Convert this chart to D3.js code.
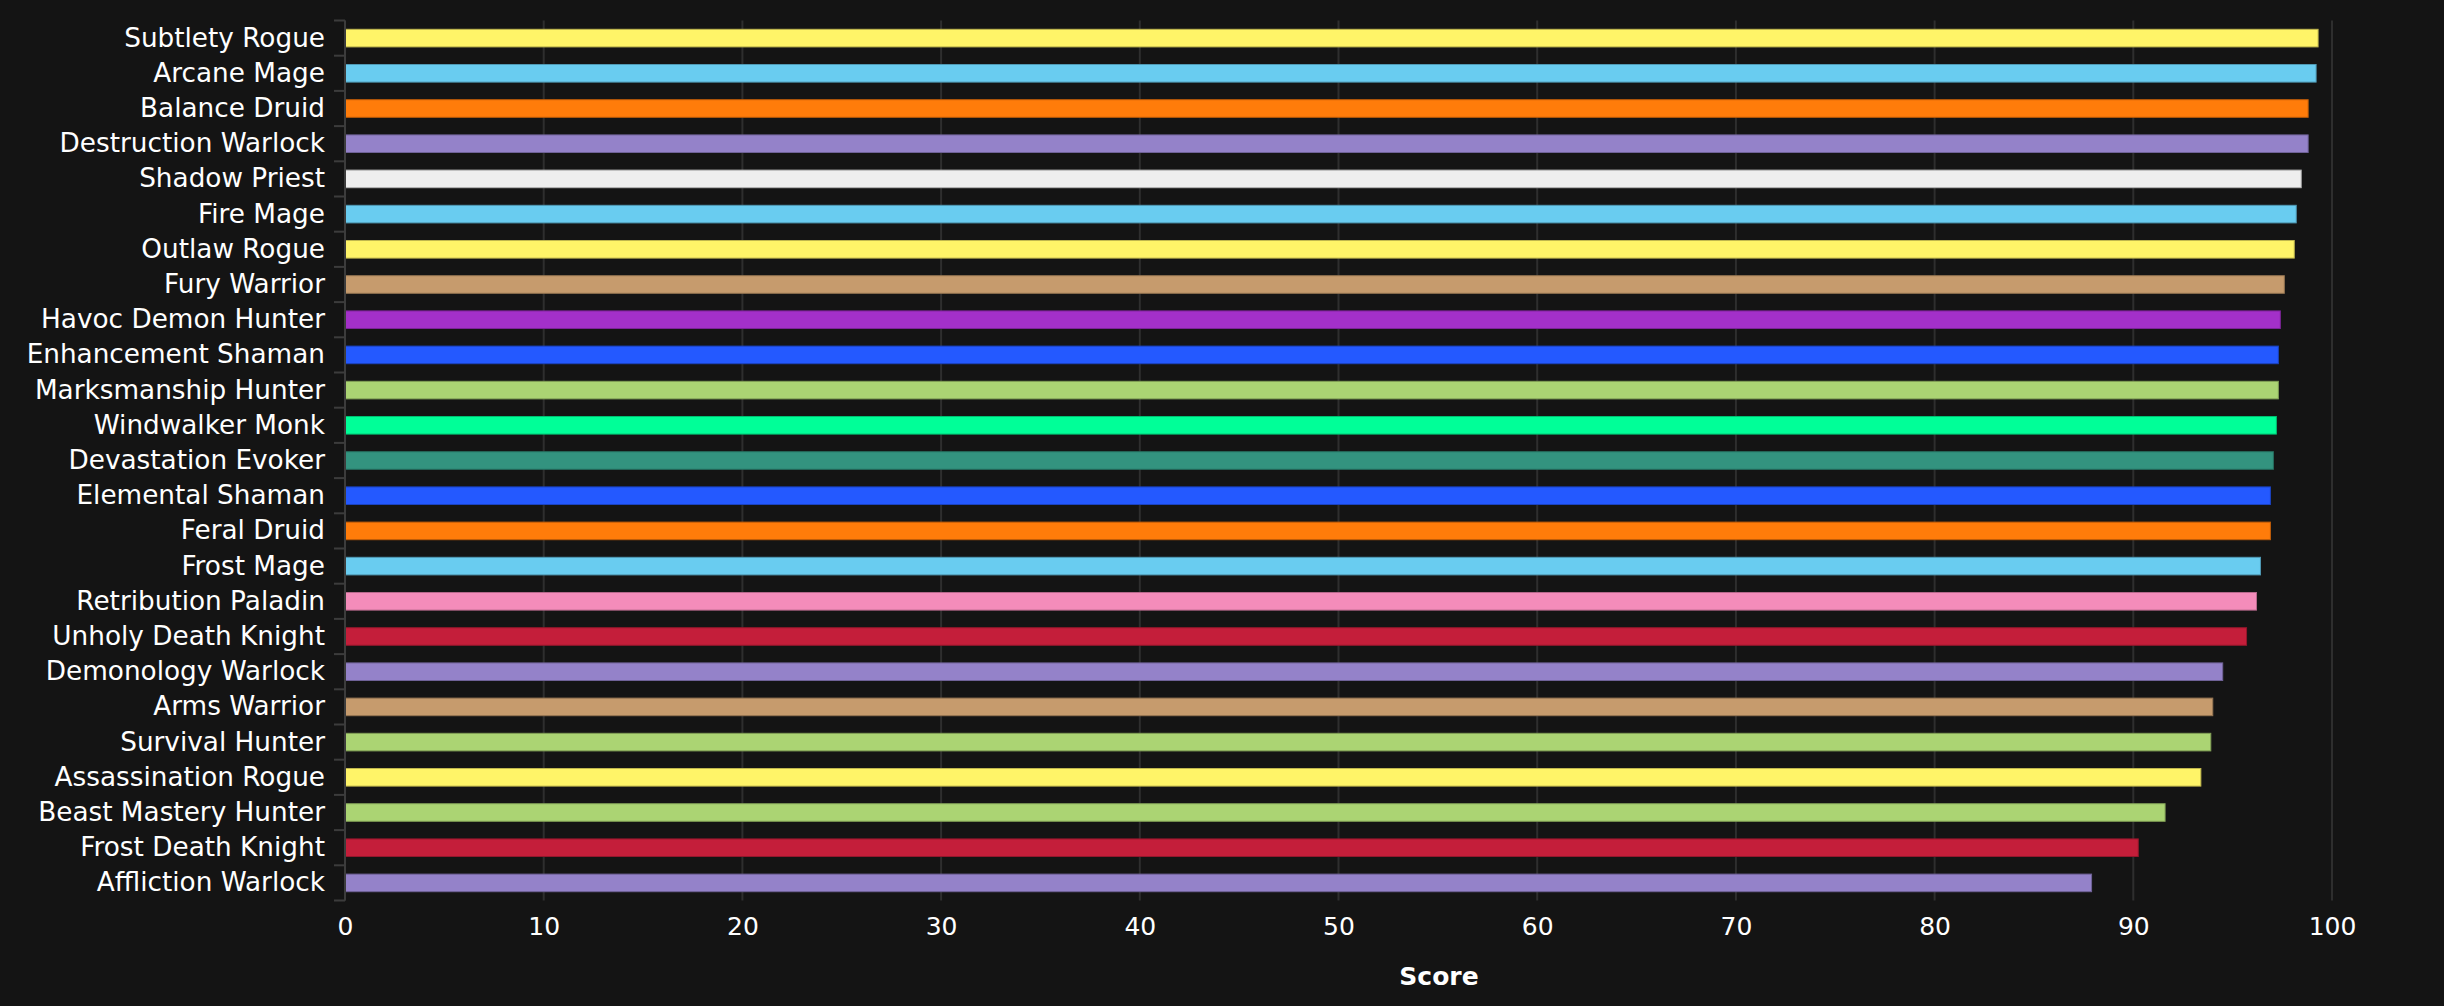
<!DOCTYPE html>
<html>
<head>
<meta charset="utf-8">
<script src="https://cdn.jsdelivr.net/npm/d3@7"></script>
<style>
html,body{margin:0;padding:0;background:#141414;}
svg{display:block;}
</style>
</head>
<body>
<svg id="chart" width="2444" height="1006"></svg>
<script>
const specs = ["Subtlety Rogue","Arcane Mage","Balance Druid","Destruction Warlock","Shadow Priest","Fire Mage","Outlaw Rogue","Fury Warrior","Havoc Demon Hunter","Enhancement Shaman","Marksmanship Hunter","Windwalker Monk","Devastation Evoker","Elemental Shaman","Feral Druid","Frost Mage","Retribution Paladin","Unholy Death Knight","Demonology Warlock","Arms Warrior","Survival Hunter","Assassination Rogue","Beast Mastery Hunter","Frost Death Knight","Affliction Warlock"];
const scores = [99.3,99.2,98.8,98.8,98.45,98.2,98.1,97.6,97.4,97.3,97.3,97.2,97.05,96.9,96.9,96.4,96.2,95.7,94.5,94.0,93.9,93.4,91.6,90.25,87.9];
const classes = ["Rogue","Mage","Druid","Warlock","Priest","Mage","Rogue","Warrior","Demon Hunter","Shaman","Hunter","Monk","Evoker","Shaman","Druid","Mage","Paladin","Death Knight","Warlock","Warrior","Hunter","Rogue","Hunter","Death Knight","Warlock"];
const classNames = ["Rogue","Mage","Druid","Warlock","Priest","Warrior","Demon Hunter","Shaman","Hunter","Monk","Evoker","Paladin","Death Knight"];
const classColors = ["#FFF468","#69CCF0","#FF7C0A","#9482C9","#EEEEEE","#C69B6D","#A330C9","#2459FF","#ABD473","#00FF98","#33937F","#F48CBA","#C41E3A"];
const xTicks = [0,10,20,30,40,50,60,70,80,90,100];
const xTitle = "Score";

(function(){
const svg = d3.select("#chart");
const mLeft = 345, mRight = 2332, mTop = 20.5, mBottom = 900.5;
const x = d3.scaleLinear().domain([0,100]).range([mLeft,mRight]);
const y = d3.scaleBand().domain(specs).range([mTop,mBottom]).paddingInner(0.5).paddingOuter(0.25);
const color = d3.scaleOrdinal().domain(classNames).range(classColors);
const font = "DejaVu Sans, sans-serif";

// gridlines
svg.append("g").selectAll("line").data(xTicks).join("line")
  .attr("x1", d=>x(d)).attr("x2", d=>x(d))
  .attr("y1", mTop).attr("y2", mBottom)
  .attr("stroke", "#2e2e2e").attr("stroke-width", 2);

// bars
svg.append("g").selectAll("rect").data(specs).join("rect")
  .attr("x", x(0))
  .attr("y", d=>y(d))
  .attr("width", (d,i)=>x(scores[i])-x(0))
  .attr("height", y.bandwidth())
  .attr("fill", (d,i)=>color(classes[i]))
  .attr("stroke", (d,i)=>d3.color(color(classes[i])).darker(0.8))
  .attr("stroke-width", 1);

// y axis
const yAxis = svg.append("g").attr("transform", `translate(${mLeft},0)`)
  .call(d3.axisLeft(y).tickSize(0).tickPadding(20));
yAxis.select(".domain").remove();
yAxis.selectAll("text").attr("fill","#ffffff").style("font-family",font).style("font-size","26.3px");
// band boundary ticks
const bounds = specs.map(s=>y(s)-y.step()*y.paddingInner()/2).concat([mBottom]);
svg.append("g").selectAll("line").data(bounds).join("line")
  .attr("x1", mLeft-11).attr("x2", mLeft).attr("y1", d=>d).attr("y2", d=>d)
  .attr("stroke","#3c3c3c").attr("stroke-width",2);
svg.append("line").attr("x1",mLeft).attr("x2",mLeft).attr("y1",mTop).attr("y2",mBottom)
  .attr("stroke","#3c3c3c").attr("stroke-width",2);

// x axis
const xAxis = svg.append("g").attr("transform", `translate(0,${mBottom})`)
  .call(d3.axisBottom(x).tickValues(xTicks).tickSize(0).tickPadding(17).tickFormat(d3.format("d")));
xAxis.select(".domain").remove();
xAxis.selectAll("text").attr("fill","#ffffff").style("font-family",font).style("font-size","25px");

svg.append("text").attr("x",1439).attr("y",976).attr("dy","0.35em")
  .attr("text-anchor","middle").attr("fill","#ffffff")
  .style("font-family",font).style("font-size","25px").style("font-weight","bold")
  .text(xTitle);
})();
</script>
</body>
</html>
